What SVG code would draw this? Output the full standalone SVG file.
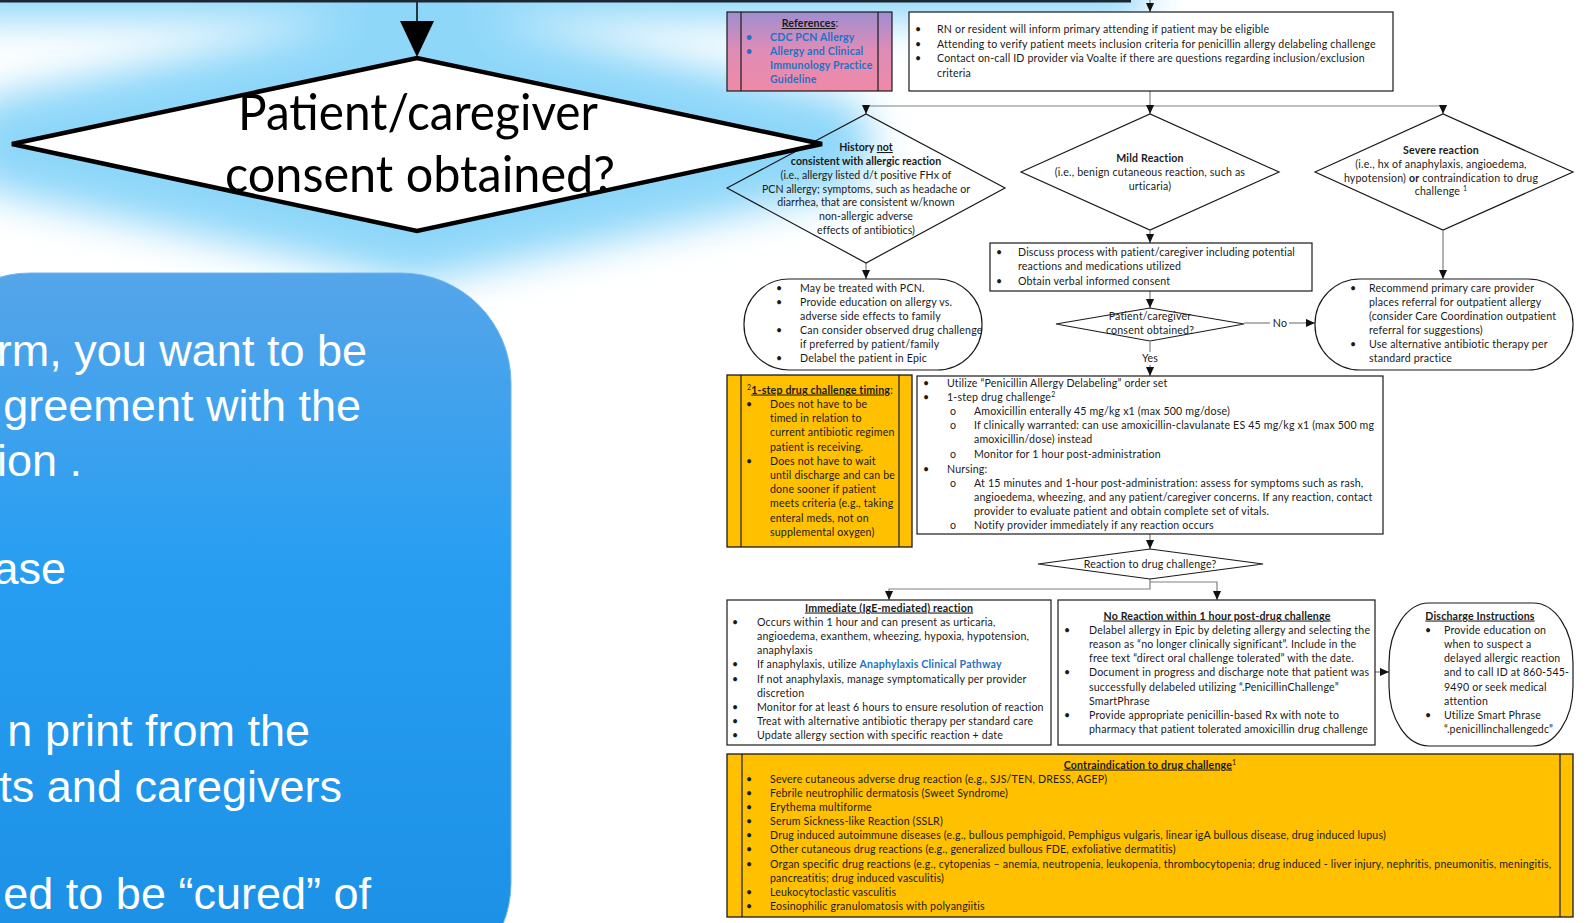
<svg xmlns="http://www.w3.org/2000/svg" width="1588" height="923" viewBox="0 0 1588 923">
<defs>
  <style>
    .t{font-family:Lato,"Liberation Sans",sans-serif;font-size:10.6px;letter-spacing:0.18px;fill:#1a1a1a}
    .n{letter-spacing:0.03px}
    .c{text-anchor:middle}
    .b{font-weight:bold}
    .u{text-decoration:underline}
    .lk{fill:#1f72c4;font-weight:bold}
    .bx{fill:#fff;stroke:#1a1a1a;stroke-width:1.2}
    .dm{fill:none;stroke:#1a1a1a;stroke-width:1.2}
    .og{fill:#ffc000;stroke:#1a1a1a;stroke-width:1.3}
    .ln{stroke:#1a1a1a;stroke-width:1.2}
    .cn{fill:none;stroke:#808080;stroke-width:1.2}
    .big{font-family:Lato,"Liberation Sans",sans-serif;font-size:50px;fill:#000;text-anchor:middle}
    .wt{font-family:"Liberation Sans",Arial,sans-serif;font-size:45px;fill:#fff;text-anchor:end}
  </style>
  <marker id="ah" markerUnits="userSpaceOnUse" markerWidth="9" markerHeight="9" viewBox="0 0 10 10" refX="10" refY="5" orient="auto">
    <path d="M0,0.5 L10,5 L0,9.5z" fill="#111"/>
  </marker>
  <linearGradient id="gBlue" x1="0" y1="0" x2="0" y2="1">
    <stop offset="0" stop-color="#55a5e9"/>
    <stop offset="0.4" stop-color="#289ef2"/>
    <stop offset="1" stop-color="#1a8fe4"/>
  </linearGradient>
  <linearGradient id="gPink" x1="0" y1="0" x2="0" y2="1">
    <stop offset="0" stop-color="#9f8fd0"/>
    <stop offset="0.5" stop-color="#e08cb6"/>
    <stop offset="1" stop-color="#ef8aa7"/>
  </linearGradient>
  <filter id="glow" x="-30%" y="-90%" width="160%" height="280%">
    <feGaussianBlur stdDeviation="20"/>
  </filter>
</defs>

<rect x="0" y="0" width="1588" height="923" fill="#fff"/>

<!-- soft blue halo behind the overlay shapes -->
<g id="halo" filter="url(#glow)" fill="#8ed7f9" stroke="#8ed7f9">
  <polygon points="12,144 417,58 822,144 417,231" stroke-width="100" stroke-linejoin="round"/>
  <rect x="-40" y="-40" width="1185" height="60" stroke="none"/>
</g>

<!-- flowchart connectors -->
<g id="connectors">
  <path class="cn" d="M1150,0 V12" marker-end="url(#ah)"/>
  <path class="cn" d="M1150,91 V106 M866,106 H1443"/>
  <path class="cn" d="M866,106 V114" marker-end="url(#ah)"/>
  <path class="cn" d="M1150,106 V114" marker-end="url(#ah)"/>
  <path class="cn" d="M1443,106 V114" marker-end="url(#ah)"/>
  <path class="cn" d="M866,263 V279" marker-end="url(#ah)"/>
  <path class="cn" d="M1150,231 V243" marker-end="url(#ah)"/>
  <path class="cn" d="M1150,291 V308" marker-end="url(#ah)"/>
  <path class="cn" d="M1443,231 V279" marker-end="url(#ah)"/>
  <path class="cn" d="M1244,323 H1270"/>
  <path class="cn" d="M1289,323 H1315" marker-end="url(#ah)"/>
  <path class="cn" d="M1150,342 V352"/>
  <path class="cn" d="M1150,365 V376" marker-end="url(#ah)"/>
  <path class="cn" d="M1150,534 V549" marker-end="url(#ah)"/>
  <path class="cn" d="M1150,579 V589 H889 V600" marker-end="url(#ah)"/>
  <path class="cn" d="M1150,582 H1217 V600" marker-end="url(#ah)"/>
  <path class="cn" d="M1375,672 H1389" marker-end="url(#ah)"/>
  <text class="t c" x="1280" y="327">No</text>
  <text class="t c" x="1150" y="362">Yes</text>
</g>

<!-- references -->
<g id="references">
  <rect x="727" y="12" width="165" height="79" fill="url(#gPink)" stroke="#1a1a1a" stroke-width="1.2"/>
  <line class="ln" x1="741" y1="12" x2="741" y2="91"/>
  <line class="ln" x1="878" y1="12" x2="878" y2="91"/>
  <text class="t c" x="810" y="27" fill="#1a1a3a"><tspan class="b u">References</tspan>:</text>
  <text class="t lk" x="746" y="41">•</text>
  <text class="t lk" x="770" y="41">CDC PCN Allergy</text>
  <text class="t lk" x="746" y="55">•</text>
  <text class="t lk" x="770" y="55">Allergy and Clinical</text>
  <text class="t lk" x="770" y="69">Immunology Practice</text>
  <text class="t lk" x="770" y="83">Guideline</text>
</g>

<!-- eligibility -->
<g id="eligibility">
  <rect class="bx" x="909" y="12" width="484" height="79"/>
  <text class="t" x="915" y="33">•</text>
  <text class="t" x="937" y="33">RN or resident will inform primary attending if patient may be eligible</text>
  <text class="t" x="915" y="48">•</text>
  <text class="t" x="937" y="48">Attending to verify patient meets inclusion criteria for penicillin allergy delabeling challenge</text>
  <text class="t" x="915" y="62">•</text>
  <text class="t" x="937" y="62">Contact on-call ID provider via Voalte if there are questions regarding inclusion/exclusion</text>
  <text class="t" x="937" y="76.5">criteria</text>
</g>

<!-- history not consistent -->
<g id="history">
  <polygon class="dm" points="727,188 866,114 1005,188 866,263"/>
  <text class="t n c b" x="866" y="151">History <tspan class="u">not</tspan></text>
  <text class="t n c b" x="866" y="165">consistent with allergic reaction</text>
  <text class="t n c" x="866" y="179">(i.e., allergy listed d/t positive FHx of</text>
  <text class="t n c" x="866" y="192.5">PCN allergy; symptoms, such as headache or</text>
  <text class="t n c" x="866" y="206">diarrhea, that are consistent w/known</text>
  <text class="t n c" x="866" y="220">non-allergic adverse</text>
  <text class="t n c" x="866" y="234">effects of antibiotics)</text>
</g>

<!-- mild reaction -->
<g id="mild">
  <polygon class="dm" points="1021,172 1150,114 1279,172 1150,230"/>
  <text class="t c b" x="1150" y="161.5">Mild Reaction</text>
  <text class="t c" x="1150" y="175.5">(i.e., benign cutaneous reaction, such as</text>
  <text class="t c" x="1150" y="189.5">urticaria)</text>
</g>

<!-- severe reaction -->
<g id="severe">
  <polygon class="dm" points="1315,172 1443,114 1573,172 1443,230"/>
  <text class="t c b" x="1441" y="153.5">Severe reaction</text>
  <text class="t c" x="1441" y="167.5">(i.e., hx of anaphylaxis, angioedema,</text>
  <text class="t c" x="1441" y="181.5">hypotension) <tspan class="b">or</tspan> contraindication to drug</text>
  <text class="t c" x="1441" y="195">challenge <tspan dy="-4" font-size="7">1</tspan></text>
</g>

<!-- treat with PCN -->
<g id="treat">
  <rect class="dm" x="744" y="279" width="238" height="91" rx="45"/>
  <text class="t" x="776" y="291.5">•</text>
  <text class="t" x="800" y="291.5">May be treated with PCN.</text>
  <text class="t" x="776" y="305.5">•</text>
  <text class="t" x="800" y="305.5">Provide education on allergy vs.</text>
  <text class="t" x="800" y="319.5">adverse side effects to family</text>
  <text class="t" x="776" y="333.5">•</text>
  <text class="t" x="800" y="333.5">Can consider observed drug challenge</text>
  <text class="t" x="800" y="347.5">if preferred by patient/family</text>
  <text class="t" x="776" y="362">•</text>
  <text class="t" x="800" y="362">Delabel the patient in Epic</text>
</g>

<!-- discuss -->
<g id="discuss">
  <rect class="bx" x="990" y="243" width="322" height="48"/>
  <text class="t" x="996" y="255.5">•</text>
  <text class="t" x="1018" y="255.5">Discuss process with patient/caregiver including potential</text>
  <text class="t" x="1018" y="269.5">reactions and medications utilized</text>
  <text class="t" x="996" y="284.5">•</text>
  <text class="t" x="1018" y="284.5">Obtain verbal informed consent</text>
</g>

<!-- consent -->
<g id="consent">
  <polygon class="dm" points="1056,324 1150,308 1244,324 1150,341"/>
  <text class="t c" x="1150" y="319.5">Patient/caregiver</text>
  <text class="t c" x="1150" y="333.5">consent obtained?</text>
</g>

<!-- referral -->
<g id="referral">
  <rect class="dm" x="1315" y="279" width="258" height="91" rx="45"/>
  <text class="t" x="1350" y="291.5">•</text>
  <text class="t" x="1369" y="291.5">Recommend primary care provider</text>
  <text class="t" x="1369" y="305.5">places referral for outpatient allergy</text>
  <text class="t" x="1369" y="319.5">(consider Care Coordination outpatient</text>
  <text class="t" x="1369" y="333.5">referral for suggestions)</text>
  <text class="t" x="1350" y="347.5">•</text>
  <text class="t" x="1369" y="347.5">Use alternative antibiotic therapy per</text>
  <text class="t" x="1369" y="362">standard practice</text>
</g>

<!-- timing -->
<g id="timing">
  <rect class="og" x="727" y="375" width="185" height="172"/>
  <line class="ln" x1="741" y1="375" x2="741" y2="547"/>
  <line class="ln" x1="899" y1="375" x2="899" y2="547"/>
  <text class="t" x="747" y="393.5"><tspan dy="-4" font-size="7">2</tspan><tspan dy="4" class="b u">1-step drug challenge timing</tspan>:</text>
  <text class="t" x="746" y="407.5">•</text>
  <text class="t" x="770" y="407.5">Does not have to be</text>
  <text class="t" x="770" y="421.5">timed in relation to</text>
  <text class="t" x="770" y="435.5">current antibiotic regimen</text>
  <text class="t" x="770" y="450.5">patient is receiving.</text>
  <text class="t" x="746" y="464.5">•</text>
  <text class="t" x="770" y="464.5">Does not have to wait</text>
  <text class="t" x="770" y="478.5">until discharge and can be</text>
  <text class="t" x="770" y="492.5">done sooner if patient</text>
  <text class="t" x="770" y="506.5">meets criteria (e.g., taking</text>
  <text class="t" x="770" y="521.5">enteral meds, not on</text>
  <text class="t" x="770" y="535.5">supplemental oxygen)</text>
</g>

<!-- challenge -->
<g id="challenge">
  <rect class="bx" x="917" y="376" width="466" height="158"/>
  <text class="t" x="923" y="386.5">•</text>
  <text class="t" x="947" y="386.5">Utilize “Penicillin Allergy Delabeling” order set</text>
  <text class="t" x="923" y="400.5">•</text>
  <text class="t" x="947" y="400.5">1-step drug challenge<tspan dy="-4" font-size="7">2</tspan></text>
  <text class="t" x="950" y="414.5">o</text>
  <text class="t" x="974" y="414.5">Amoxicillin enterally 45 mg/kg x1 (max 500 mg/dose)</text>
  <text class="t" x="950" y="428.5">o</text>
  <text class="t" x="974" y="428.5">If clinically warranted: can use amoxicillin-clavulanate ES 45 mg/kg x1 (max 500 mg</text>
  <text class="t" x="974" y="443">amoxicillin/dose) instead</text>
  <text class="t" x="950" y="458">o</text>
  <text class="t" x="974" y="458">Monitor for 1 hour post-administration</text>
  <text class="t" x="923" y="472.5">•</text>
  <text class="t" x="947" y="472.5">Nursing:</text>
  <text class="t" x="950" y="486.5">o</text>
  <text class="t" x="974" y="486.5">At 15 minutes and 1-hour post-administration: assess for symptoms such as rash,</text>
  <text class="t" x="974" y="500.5">angioedema, wheezing, and any patient/caregiver concerns. If any reaction, contact</text>
  <text class="t" x="974" y="515">provider to evaluate patient and obtain complete set of vitals.</text>
  <text class="t" x="950" y="529">o</text>
  <text class="t" x="974" y="529">Notify provider immediately if any reaction occurs</text>
</g>

<!-- reaction decision -->
<g id="reaction">
  <polygon class="dm" points="1038,564 1150,549 1263,564 1150,579"/>
  <text class="t c" x="1150" y="567.5">Reaction to drug challenge?</text>
</g>

<!-- immediate reaction -->
<g id="immediate">
  <rect class="bx" x="727" y="600" width="324" height="145"/>
  <text class="t c b u" x="889" y="611.5">Immediate (IgE-mediated) reaction</text>
  <text class="t" x="732" y="625.7">•</text>
  <text class="t" x="757" y="625.7">Occurs within 1 hour and can present as urticaria,</text>
  <text class="t" x="757" y="639.9">angioedema, exanthem, wheezing, hypoxia, hypotension,</text>
  <text class="t" x="757" y="654.1">anaphylaxis</text>
  <text class="t" x="732" y="668.3">•</text>
  <text class="t" x="757" y="668.3">If anaphylaxis, utilize <tspan class="lk">Anaphylaxis Clinical Pathway</tspan></text>
  <text class="t" x="732" y="682.5">•</text>
  <text class="t" x="757" y="682.5">If not anaphylaxis, manage symptomatically per provider</text>
  <text class="t" x="757" y="696.7">discretion</text>
  <text class="t" x="732" y="710.9">•</text>
  <text class="t" x="757" y="710.9">Monitor for at least 6 hours to ensure resolution of reaction</text>
  <text class="t" x="732" y="725.1">•</text>
  <text class="t" x="757" y="725.1">Treat with alternative antibiotic therapy per standard care</text>
  <text class="t" x="732" y="739.3">•</text>
  <text class="t" x="757" y="739.3">Update allergy section with specific reaction + date</text>
</g>

<!-- no reaction -->
<g id="noreaction">
  <rect class="bx" x="1058" y="600" width="317" height="145"/>
  <text class="t c b u" x="1217" y="619.5">No Reaction within 1 hour post-drug challenge</text>
  <text class="t" x="1064" y="633.7">•</text>
  <text class="t" x="1089" y="633.7">Delabel allergy in Epic by deleting allergy and selecting the</text>
  <text class="t" x="1089" y="647.9">reason as “no longer clinically significant”. Include in the</text>
  <text class="t" x="1089" y="662.1">free text “direct oral challenge tolerated” with the date.</text>
  <text class="t" x="1064" y="676.3">•</text>
  <text class="t" x="1089" y="676.3">Document in progress and discharge note that patient was</text>
  <text class="t" x="1089" y="690.5">successfully delabeled utilizing  “.PenicillinChallenge”</text>
  <text class="t" x="1089" y="704.7">SmartPhrase</text>
  <text class="t" x="1064" y="718.9">•</text>
  <text class="t" x="1089" y="718.9">Provide appropriate penicillin-based Rx with note to</text>
  <text class="t" x="1089" y="733.1">pharmacy that patient tolerated amoxicillin drug challenge</text>
</g>

<!-- discharge -->
<g id="discharge">
  <rect class="dm" x="1389" y="603" width="184" height="143" rx="40" ry="60"/>
  <text class="t c b u" x="1480" y="619.5">Discharge Instructions</text>
  <text class="t" x="1425" y="633.7">•</text>
  <text class="t" x="1444" y="633.7">Provide education on</text>
  <text class="t" x="1444" y="647.9">when to suspect a</text>
  <text class="t" x="1444" y="662.1">delayed allergic reaction</text>
  <text class="t" x="1444" y="676.3">and to call ID at 860-545-</text>
  <text class="t" x="1444" y="690.5">9490 or seek medical</text>
  <text class="t" x="1444" y="704.7">attention</text>
  <text class="t" x="1425" y="718.9">•</text>
  <text class="t" x="1444" y="718.9">Utilize Smart Phrase</text>
  <text class="t" x="1444" y="733.1">“.penicillinchallengedc”</text>
</g>

<!-- contraindications -->
<g id="contraindications">
  <rect class="og" x="727" y="754" width="846" height="163"/>
  <line class="ln" x1="742" y1="754" x2="742" y2="917"/>
  <line class="ln" x1="1560" y1="754" x2="1560" y2="917"/>
  <text class="t c" x="1150" y="768.5"><tspan class="b u">Contraindication to drug challenge</tspan><tspan dy="-4" font-size="7">1</tspan></text>
  <text class="t" x="746" y="782.5">•</text>
  <text class="t" x="770" y="782.5">Severe cutaneous adverse drug reaction (e.g., SJS/TEN, DRESS, AGEP)</text>
  <text class="t" x="746" y="796.5">•</text>
  <text class="t" x="770" y="796.5">Febrile neutrophilic dermatosis (Sweet Syndrome)</text>
  <text class="t" x="746" y="810.5">•</text>
  <text class="t" x="770" y="810.5">Erythema multiforme</text>
  <text class="t" x="746" y="825">•</text>
  <text class="t" x="770" y="825">Serum Sickness-like Reaction (SSLR)</text>
  <text class="t" x="746" y="839">•</text>
  <text class="t" x="770" y="839">Drug induced autoimmune diseases (e.g., bullous pemphigoid, Pemphigus vulgaris, linear igA bullous disease, drug induced lupus)</text>
  <text class="t" x="746" y="853.3">•</text>
  <text class="t" x="770" y="853.3">Other cutaneous drug reactions (e.g., generalized bullous FDE, exfoliative dermatitis)</text>
  <text class="t" x="746" y="867.5">•</text>
  <text class="t" x="770" y="867.5">Organ specific drug reactions (e.g., cytopenias – anemia, neutropenia, leukopenia, thrombocytopenia; drug induced - liver injury, nephritis, pneumonitis, meningitis,</text>
  <text class="t" x="770" y="881.5">pancreatitis; drug induced vasculitis)</text>
  <text class="t" x="746" y="895.5">•</text>
  <text class="t" x="770" y="895.5">Leukocytoclastic vasculitis</text>
  <text class="t" x="746" y="910">•</text>
  <text class="t" x="770" y="910">Eosinophilic granulomatosis with polyangiitis</text>
</g>

<!-- overlay: rounded blue panel with large white text -->
<g id="panel">
  <rect x="-80" y="273" width="591" height="720" rx="110" fill="url(#gBlue)" stroke="#6fb8ef" stroke-width="1"/>
  <text class="wt" x="367" y="366">rm, you want to be</text>
  <text class="wt" x="361" y="421">greement with the</text>
  <text class="wt" x="82" y="476">ion .</text>
  <text class="wt" x="66" y="584">ase</text>
  <text class="wt" x="310" y="746">n print from the</text>
  <text class="wt" x="342" y="802">ts and caregivers</text>
  <text class="wt" x="371" y="909">ed to be “cured” of</text>
</g>

<!-- overlay: consent decision -->
<g id="consent-big">
  <line x1="417" y1="0" x2="417" y2="24" stroke="#000" stroke-width="1.5"/>
  <polygon points="400,21 434,21 417,57" fill="#000"/>
  <polygon points="12,144 417,58 822,144 417,231" fill="#fff" stroke="#000" stroke-width="4.5" stroke-linejoin="miter"/>
  <text class="big" x="418" y="130" textLength="360" lengthAdjust="spacingAndGlyphs">Patient/caregiver</text>
  <text class="big" x="420" y="192" textLength="390" lengthAdjust="spacingAndGlyphs">consent obtained?</text>
</g>

<!-- edge of the box above -->
<rect id="top-edge" x="0" y="0" width="1131" height="2.5" fill="#1c2733"/>
</svg>
